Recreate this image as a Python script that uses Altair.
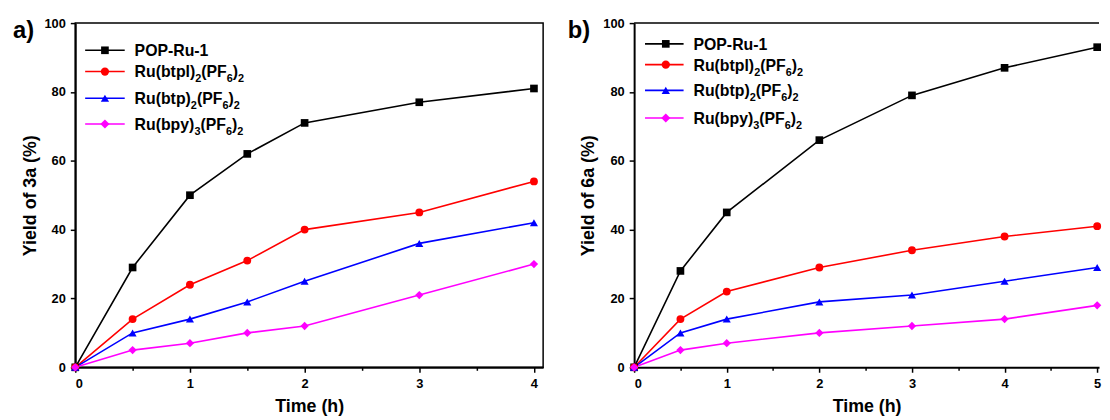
import altair as alt
import pandas as pd

# ---------------- data ----------------
series = ["POP-Ru-1", "Ru(btpl)2(PF6)2", "Ru(btp)2(PF6)2", "Ru(bpy)3(PF6)2"]
# legend labels as (text, is_subscript) pieces
label_parts = [
    [("POP-Ru-1", False)],
    [("Ru(btpl)", False), ("2", True), ("(PF", False), ("6", True), (")", False), ("2", True)],
    [("Ru(btp)", False), ("2", True), ("(PF", False), ("6", True), (")", False), ("2", True)],
    [("Ru(bpy)", False), ("3", True), ("(PF", False), ("6", True), (")", False), ("2", True)],
]

time_a = [0, 0.5, 1, 1.5, 2, 3, 4]
pop_a = [0, 29, 50, 62, 71, 77, 81]
btpl_a = [0, 14, 24, 31, 40, 45, 54]
btp_a = [0, 10, 14, 19, 25, 36, 42]
bpy_a = [0, 5, 7, 10, 12, 21, 30]

time_b = [0, 0.5, 1, 2, 3, 4, 5]
pop_b = [0, 28, 45, 66, 79, 87, 93]
btpl_b = [0, 14, 22, 29, 34, 38, 41]
btp_b = [0, 10, 14, 19, 21, 25, 29]
bpy_b = [0, 5, 7, 10, 12, 14, 18]

# ---------------- style ----------------
FONT = "Liberation Sans"
colors = ["#000000", "#FF0000", "#0000FF", "#FF00FF"]
shapes = ["square", "circle", "triangle-up", "diamond"]
sizes = [60, 70, 70, 85]
LEG_FS = 16
SUB_FS = 11
SUB_DY = 5

# Arial/Liberation Sans Bold advance widths (per 1000 em)
W = {"R": 722, "u": 611, "(": 333, ")": 333, "b": 611, "t": 333, "p": 611, "l": 278,
     "P": 667, "F": 611, "y": 556, "O": 778, "-": 333}
for d in "0123456789":
    W[d] = 556


def text_width(s, fs):
    return sum(W.get(ch, 556) for ch in s) * fs / 1000.0


def make_df(t, ys):
    rows = []
    for s, vals in zip(series, ys):
        for x, y in zip(t, vals):
            rows.append({"series": s, "time": x, "yield": y})
    return pd.DataFrame(rows)


def panel(df, xmax, xticks, width, ytitle, tag, tag_x, legend_ys, leg_x0, leg_x1, leg_xm, leg_xt, right_border):
    height = 348
    xs = alt.Scale(domain=[0, xmax], nice=False, zero=False)
    ys = alt.Scale(domain=[0, 100], nice=False)
    x_axis = alt.Axis(
        values=xticks,
        labelExpr="datum.value % 1 === 0 ? format(datum.value, 'd') : ''",
        tickSize={"condition": {"test": "datum.value % 1 !== 0", "value": 3}, "value": 5},
        labelPadding=5, titlePadding=8, title="Time (h)", labelOverlap=False,
    )
    y_axis = alt.Axis(
        values=list(range(0, 101, 10)),
        labelExpr="datum.value % 20 === 0 ? format(datum.value, 'd') : ''",
        tickSize={"condition": {"test": "datum.value % 20 !== 0", "value": 3}, "value": 5},
        labelPadding=5, titlePadding=5, title=ytitle, labelOverlap=False,
    )
    base = alt.Chart(df)
    color = alt.Color("series:N", scale=alt.Scale(domain=series, range=colors), legend=None)
    lines = base.mark_line(strokeWidth=1.6).encode(
        x=alt.X("time:Q", scale=xs, axis=x_axis),
        y=alt.Y("yield:Q", scale=ys, axis=y_axis),
        color=color,
        order="time:Q",
    )
    pts = base.mark_point(filled=True, opacity=1).encode(
        x=alt.X("time:Q", scale=xs),
        y=alt.Y("yield:Q", scale=ys),
        color=color,
        shape=alt.Shape("series:N", scale=alt.Scale(domain=series, range=shapes), legend=None),
        size=alt.Size("series:N", scale=alt.Scale(domain=series, range=sizes), legend=None),
    )
    dummy = alt.Chart(pd.DataFrame({"a": [0]}))
    layers = [lines, pts]
    for parts, c, sh, sz, ly in zip(label_parts, colors, shapes, sizes, legend_ys):
        layers.append(dummy.mark_rule(color=c, strokeWidth=1.6).encode(
            x=alt.value(leg_x0), x2=alt.value(leg_x1), y=alt.value(ly)))
        layers.append(dummy.mark_point(shape=sh, filled=True, color=c, size=sz, opacity=1).encode(
            x=alt.value(leg_xm), y=alt.value(ly)))
        cx = leg_xt
        for txt, sub in parts:
            fs = SUB_FS if sub else LEG_FS
            layers.append(dummy.mark_text(align="left", baseline="alphabetic", font=FONT, fontSize=fs,
                                          fontWeight="bold", color="black",
                                          dy=(SUB_DY if sub else 0)).encode(
                x=alt.value(cx), y=alt.value(ly + 6), text=alt.value(txt)))
            cx += text_width(txt, fs)
    layers.append(dummy.mark_text(align="left", baseline="middle", font=FONT, fontSize=24,
                                  fontWeight="bold", color="black").encode(
        x=alt.value(tag_x), y=alt.value(8), text=alt.value(tag)))
    if not right_border:
        layers.append(dummy.mark_rule(color="black", strokeWidth=1.5).encode(
            x=alt.value(0), x2=alt.value(width), y=alt.value(0)))
    ch = alt.layer(*layers).properties(width=width, height=height)
    if not right_border:
        ch = ch.properties(view=alt.ViewBackground(strokeOpacity=0))
    return ch


df_a = make_df(time_a, [pop_a, btpl_a, btp_a, bpy_a])
df_b = make_df(time_b, [pop_b, btpl_b, btp_b, bpy_b])

xt_a = [0, 0.5, 1, 1.5, 2, 2.5, 3, 3.5, 4]
xt_b = [0, 0.5, 1, 1.5, 2, 2.5, 3, 3.5, 4, 4.5, 5]

pa = panel(df_a, 4.08, xt_a, 473, "Yield of 3a (%)", "a)", -63, [27.5, 49, 76, 102], 10, 50, 30, 60, True)
pb = panel(df_b, 5.02, xt_b, 470, "Yield of 6a (%)", "b)", -67, [21, 42, 68, 96], 11, 50, 32, 60, False)

chart = alt.hconcat(pa, pb, spacing=24).properties(
    padding={"left": 4, "top": 6, "right": 0, "bottom": 0}
).configure_axis(
    labelFont=FONT, labelFontSize=13, labelFontWeight="bold", labelColor="black",
    titleFont=FONT, titleFontSize=18, titleFontWeight="bold", titleColor="black",
    domainColor="black", domainWidth=2, tickColor="black", tickWidth=1.5, grid=False,
).configure_view(stroke="black", strokeWidth=1.5)

chart.save("out.html", embed_options={"renderer": "svg", "actions": False})
